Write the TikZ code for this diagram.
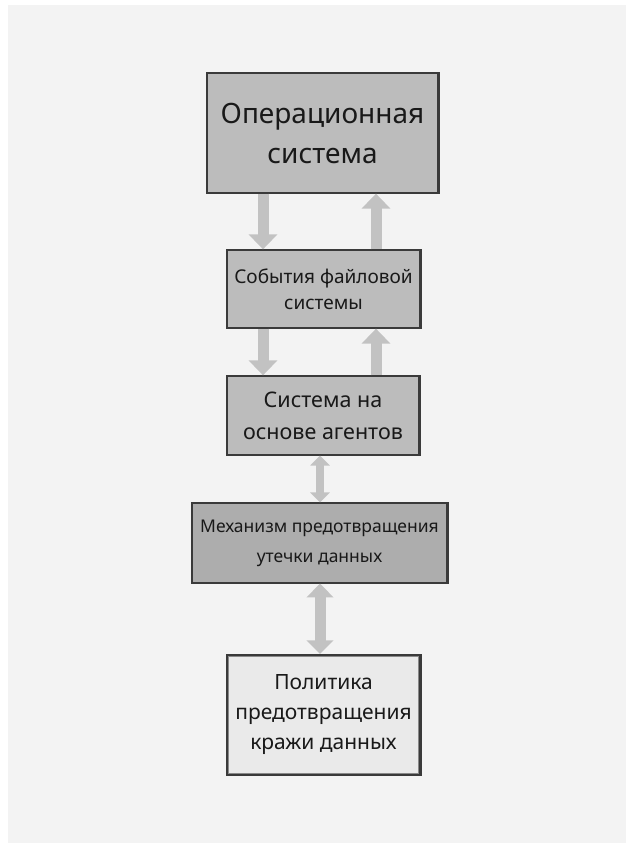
\documentclass[tikz,border=0pt]{standalone}
\usepackage{fontspec}
\setmainfont{Noto Sans}
\usetikzlibrary{arrows.meta}
\definecolor{panel}{HTML}{F3F3F3}
\definecolor{boxgray}{HTML}{BCBCBC}
\definecolor{boxdark}{HTML}{ADADAD}
\definecolor{boxlight}{HTML}{EAEAEA}
\definecolor{edge}{HTML}{3A3A3A}
\definecolor{flow}{HTML}{C2C2C2}
\tikzset{
  block/.style={draw=edge, line width=1.3pt, fill=boxgray, align=center,
    inner sep=0pt, text=black!90},
  flowarrow/.style={draw=flow, line width=11pt,
    -{Triangle[width=28pt,length=15pt]}},
  flowboth/.style={draw=flow, line width=#1,
    {Triangle[width=2.4*#1,length=1.25*#1]}-{Triangle[width=2.4*#1,length=1.25*#1]}},
}
\begin{document}
\begin{tikzpicture}[x=1pt,y=-1pt]
\useasboundingbox (0,0) rectangle (626,843);
\fill[white] (0,0) rectangle (626,843);
\fill[panel] (8,5) rectangle (626,843);

% blocks
\node[block, minimum width=231pt, minimum height=120pt,
  font=\fontsize{28}{40}\selectfont] (b1) at (322.5,133)
  {Операционная\\система};
\node[block, minimum width=193pt, minimum height=78pt,
  font=\fontsize{19}{26}\selectfont] (b2) at (323.5,289)
  {События файловой\\системы};
\node[block, minimum width=192pt, minimum height=79pt,
  font=\fontsize{21.5}{32}\selectfont] (b3) at (323,415.5)
  {Система на\\основе агентов};
\node[block, fill=boxdark, minimum width=255pt, minimum height=80pt,
  font=\fontsize{17.5}{30}\selectfont] (b4) at (319.5,543)
  {Механизм предотвращения\\утечки данных};
\node[block, fill=boxlight, line width=2pt, minimum width=193pt, minimum height=120pt,
  font=\fontsize{21}{30}\selectfont] (b5) at (323.5,715)
  {Политика\\предотвращения\\кражи данных};
\draw[edge!60, line width=0.6pt] ([shift={(2.4pt,2.4pt)}]b5.south west) rectangle ([shift={(-2.4pt,-2.4pt)}]b5.north east);

% heavier right edges
\foreach \b in {b1,b2,b3,b4,b5}
  \draw[edge, line width=2.4pt] (\b.north east) -- (\b.south east);

% connectors
\coordinate (left) at (263,0);
\coordinate (right) at (376,0);
\coordinate (mid) at (320,0);
\draw[flowarrow] (b1.south -| left) -- (b2.north -| left);
\draw[flowarrow] (b2.north -| right) -- (b1.south -| right);
\draw[flowarrow] (b2.south -| left) -- (b3.north -| left);
\draw[flowarrow] (b3.north -| right) -- (b2.south -| right);
\draw[flowboth=8pt] (b3.south -| mid) -- (b4.north -| mid);
\draw[flowboth=11pt] (b4.south -| mid) -- (b5.north -| mid);
\end{tikzpicture}
\end{document}
